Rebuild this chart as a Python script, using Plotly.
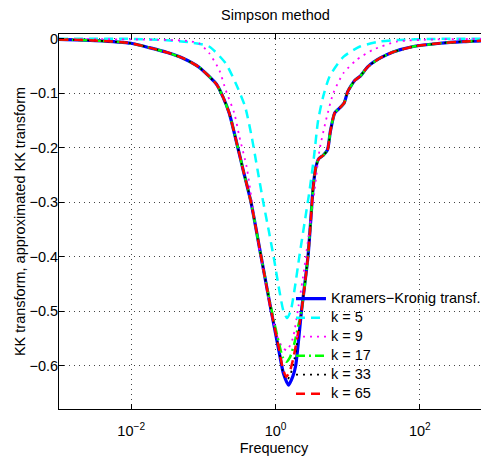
import numpy as np
import plotly.graph_objects as go

# ---------------- data (log10 of frequency, transform value) ----------------
lf_kk = [-3.0, -2.5, -2.0, -1.75, -1.5, -1.29, -1.06, -0.82, -0.73, -0.64, -0.54, -0.45, -0.34, -0.2,
         -0.06, 0.05, 0.11, 0.18, 0.24, 0.28, 0.36, 0.45, 0.49, 0.52, 0.56, 0.6, 0.66, 0.72, 0.76,
         0.82, 0.88, 0.95, 1.0, 1.1, 1.17, 1.28, 1.44, 1.63, 1.91, 2.28, 2.6, 2.96]
v_kk = [-0.001, -0.003, -0.008, -0.016, -0.025, -0.035, -0.052, -0.083, -0.106, -0.137, -0.19, -0.24, -0.30, -0.40,
        -0.50, -0.575, -0.615, -0.636, -0.62, -0.60, -0.50, -0.40, -0.33, -0.275, -0.235, -0.22, -0.214, -0.204, -0.17,
        -0.136, -0.128, -0.118, -0.097, -0.076, -0.069, -0.051, -0.036, -0.024, -0.014, -0.008, -0.005, -0.003]

lf_k5 = [-3.0, -2.0, -1.56, -1.2, -0.92, -0.69, -0.55, -0.42, -0.33, -0.25, -0.17, -0.09, -0.02, 0.05, 0.11, 0.16,
         0.21, 0.27, 0.33, 0.40, 0.47, 0.53, 0.59, 0.66, 0.75, 0.94, 1.17, 1.44, 1.68, 2.2, 2.96]
v_k5 = [0.0, 0.0, -0.002, -0.006, -0.014, -0.045, -0.082, -0.125, -0.18, -0.24, -0.30, -0.355, -0.405, -0.46, -0.50, -0.513,
        -0.50, -0.455, -0.40, -0.34, -0.28, -0.22, -0.15, -0.106, -0.069, -0.033, -0.014, -0.005, -0.002, 0.0, 0.0]

lf_k9 = [-3.0, -2.0, -1.5, -1.2, -1.06, -0.92, -0.78, -0.69, -0.57, -0.5, -0.4, -0.33, -0.26, -0.18, -0.08, 0.02,
         0.1, 0.16, 0.24, 0.32, 0.40, 0.47, 0.54, 0.61, 0.7, 0.8, 0.94, 1.12, 1.35, 1.68, 2.2, 2.96]
v_k9 = [0.0, -0.001, -0.002, -0.004, -0.008, -0.026, -0.057, -0.094, -0.137, -0.18, -0.235, -0.296, -0.357, -0.42, -0.49, -0.545,
        -0.568, -0.572, -0.55, -0.49, -0.42, -0.35, -0.28, -0.204, -0.149, -0.1, -0.063, -0.039, -0.02, -0.005, -0.001, 0.0]

lf_k17 = [-3.0, -2.5, -2.0, -1.75, -1.5, -1.29, -1.06, -0.82, -0.73, -0.64, -0.54, -0.45, -0.34, -0.2,
          -0.06, 0.05, 0.1, 0.15, 0.2, 0.26, 0.31, 0.36, 0.45, 0.49, 0.52, 0.56, 0.6, 0.66, 0.72, 0.76,
          0.82, 0.88, 0.95, 1.0, 1.1, 1.17, 1.28, 1.44, 1.63, 1.91, 2.28, 2.6, 2.96]
v_k17 = [-0.001, -0.003, -0.008, -0.016, -0.025, -0.035, -0.052, -0.083, -0.106, -0.137, -0.19, -0.24, -0.30, -0.40,
         -0.495, -0.56, -0.585, -0.593, -0.585, -0.56, -0.53, -0.50, -0.40, -0.33, -0.275, -0.235, -0.22, -0.214, -0.204, -0.17,
         -0.136, -0.128, -0.118, -0.097, -0.076, -0.069, -0.051, -0.036, -0.024, -0.014, -0.008, -0.005, -0.003]

lf_k33 = [-3.0, -2.5, -2.0, -1.75, -1.5, -1.29, -1.06, -0.82, -0.73, -0.64, -0.54, -0.45, -0.34, -0.2,
          -0.06, 0.05, 0.1, 0.16, 0.21, 0.26, 0.31, 0.36, 0.45, 0.49, 0.52, 0.56, 0.6, 0.66, 0.72, 0.76,
          0.82, 0.88, 0.95, 1.0, 1.1, 1.17, 1.28, 1.44, 1.63, 1.91, 2.28, 2.6, 2.96]
v_k33 = [-0.001, -0.003, -0.008, -0.016, -0.025, -0.035, -0.052, -0.083, -0.106, -0.137, -0.19, -0.24, -0.30, -0.40,
         -0.50, -0.573, -0.61, -0.627, -0.615, -0.59, -0.55, -0.50, -0.40, -0.33, -0.275, -0.235, -0.22, -0.214, -0.204, -0.17,
         -0.136, -0.128, -0.118, -0.097, -0.076, -0.069, -0.051, -0.036, -0.024, -0.014, -0.008, -0.005, -0.003]

lf_k65 = [-3.0, -2.5, -2.0, -1.75, -1.5, -1.29, -1.06, -0.82, -0.73, -0.64, -0.54, -0.45, -0.34, -0.2,
          -0.06, 0.05, 0.1, 0.15, 0.2, 0.25, 0.3, 0.36, 0.45, 0.49, 0.52, 0.56, 0.6, 0.66, 0.72, 0.76,
          0.82, 0.88, 0.95, 1.0, 1.1, 1.17, 1.28, 1.44, 1.63, 1.91, 2.28, 2.6, 2.96]
v_k65 = [-0.001, -0.003, -0.008, -0.016, -0.025, -0.035, -0.052, -0.083, -0.106, -0.137, -0.19, -0.24, -0.30, -0.40,
         -0.50, -0.57, -0.605, -0.621, -0.61, -0.585, -0.55, -0.50, -0.40, -0.33, -0.275, -0.235, -0.22, -0.214, -0.204, -0.17,
         -0.136, -0.128, -0.118, -0.097, -0.076, -0.069, -0.051, -0.036, -0.024, -0.014, -0.008, -0.005, -0.003]

series_names = ["Kramers\u2212Kronig transf.", "k = 5", "k = 9", "k = 17", "k = 33", "k = 65"]
x_tickvals = [1e-2, 1e0, 1e2]
x_ticktext = ["10<sup>\u22122</sup>", "10<sup>0</sup>", "10<sup>2</sup>"]
y_tickvals = [0, -0.1, -0.2, -0.3, -0.4, -0.5, -0.6]

styles = [
    dict(color="#0000ff", width=3.2, dash="solid"),
    dict(color="#00ffff", width=2.5, dash="9px,6px"),
    dict(color="#ff00ff", width=1.8, dash="2px,5px"),
    dict(color="#00ff00", width=2.5, dash="9px,4px,2px,4px"),
    dict(color="#000000", width=1.8, dash="2px,5px"),
    dict(color="#ff0000", width=2.5, dash="9px,6px"),
]
datasets = [(lf_kk, v_kk), (lf_k5, v_k5), (lf_k9, v_k9), (lf_k17, v_k17), (lf_k33, v_k33), (lf_k65, v_k65)]

fig = go.Figure()
for name, (lf, v), st in zip(series_names, datasets, styles):
    fig.add_trace(go.Scatter(
        x=np.power(10.0, np.array(lf)), y=v, mode="lines",
        name='<span style="font-size:14.5px">' + name + '</span>',
        line=dict(color=st["color"], width=st["width"], dash=st["dash"], shape="spline", smoothing=0.6),
    ))

FONT = "Liberation Sans, Arial, Helvetica, sans-serif"
# page has an 8px body margin: figure is 481x448 so it fits the 489x456 window
fig.update_layout(
    width=481, height=448,
    margin=dict(l=51, r=0, t=26, b=47, autoexpand=False),
    paper_bgcolor="white", plot_bgcolor="white",
    font=dict(family=FONT, size=14.5, color="black"),
    title=dict(text="Simpson method", x=0.5035, xref="paper", xanchor="center",
               y=1 - 7 / 448, yref="container", yanchor="middle", font=dict(size=14.5)),
    showlegend=True,
    legend=dict(x=0.5395, y=0.333, xanchor="left", yanchor="top", bgcolor="rgba(0,0,0,0)",
                borderwidth=0, font=dict(size=12), tracegroupgap=0),
)
fig.update_xaxes(
    type="log", range=[-3, 2.958], tickvals=x_tickvals, ticktext=x_ticktext,
    showgrid=True, gridcolor="#444444", gridwidth=1, griddash="1px,4px",
    ticks="inside", ticklen=5, tickcolor="black", tickfont=dict(size=14.5),
    ticklabelstandoff=9,
    showline=True, linecolor="black", linewidth=1, mirror="ticks", zeroline=False,
    automargin=False,
    title=dict(text="Frequency", standoff=4, font=dict(size=14.5)),
)
fig.update_yaxes(
    range=[-0.680, 0.009], tickvals=y_tickvals,
    showgrid=True, gridcolor="#444444", gridwidth=1, griddash="1px,4px",
    ticks="inside", ticklen=5, tickcolor="black", tickfont=dict(size=14.5),
    ticklabelstandoff=-3,
    showline=True, linecolor="black", linewidth=1, mirror=False, zeroline=False,
    automargin=False,
    title=dict(text="KK transform, approximated KK transform", standoff=0, font=dict(size=14.5)),
)
fig.write_html("out.html")
